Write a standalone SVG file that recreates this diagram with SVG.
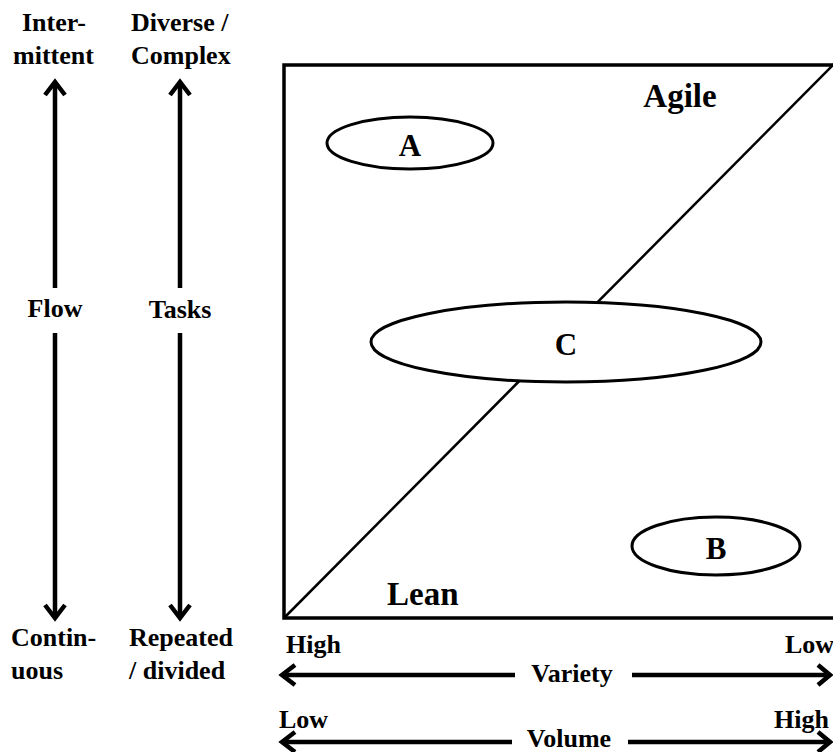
<svg xmlns="http://www.w3.org/2000/svg" width="833" height="752" viewBox="0 0 833 752">
<style>
text{font-family:"Liberation Serif","Times New Roman",serif;font-weight:bold;fill:#000}
.t{font-size:26px}
.big{font-size:33px}
.let{font-size:31px}
.ax{stroke:#000;stroke-width:4.5;fill:none}
.hd{stroke:#000;stroke-width:4.5;fill:none;stroke-linecap:butt;stroke-linejoin:miter}
.sh{stroke:#000;stroke-width:3;fill:#fff}
</style>
<rect width="833" height="752" fill="#fff"/>
<g id="matrix">
<rect x="284" y="65" width="560" height="553" fill="none" stroke="#000" stroke-width="3.5"/>
<line x1="284" y1="618" x2="836" y2="62" stroke="#000" stroke-width="2.5"/>
<text class="big" x="680" y="107" text-anchor="middle">Agile</text>
<text class="big" x="387" y="605">Lean</text>
</g>
<g id="nodeA"><ellipse class="sh" cx="410" cy="143" rx="83" ry="26"/><text class="let" x="410" y="156" text-anchor="middle">A</text></g>
<g id="nodeC"><ellipse class="sh" cx="566" cy="342" rx="195" ry="40"/><text class="let" x="566" y="355" text-anchor="middle">C</text></g>
<g id="nodeB"><ellipse class="sh" cx="716" cy="546" rx="84" ry="29"/><text class="let" x="716" y="559" text-anchor="middle">B</text></g>
<g id="labels">
<text class="t" x="22" y="31">Inter-</text>
<text class="t" x="13" y="64">mittent</text>
<text class="t" x="131" y="31">Diverse /</text>
<text class="t" x="131" y="64">Complex</text>
<text class="t" x="55" y="317" text-anchor="middle">Flow</text>
<text class="t" x="180" y="318" text-anchor="middle">Tasks</text>
<text class="t" x="11" y="646">Contin-</text>
<text class="t" x="11" y="679">uous</text>
<text class="t" x="129" y="646">Repeated</text>
<text class="t" x="129" y="679">/ divided</text>
<text class="t" x="286" y="653">High</text>
<text class="t" x="834" y="653" text-anchor="end">Low</text>
<text class="t" x="572" y="682" text-anchor="middle">Variety</text>
<text class="t" x="279" y="728">Low</text>
<text class="t" x="829" y="728" text-anchor="end">High</text>
<text class="t" x="569" y="747" text-anchor="middle">Volume</text>
</g>
<g id="connectors">
<line class="ax" x1="55" y1="82" x2="55" y2="288"/>
<line class="ax" x1="55" y1="333" x2="55" y2="618"/>
<polyline class="hd" points="45,95 55,82 65,95"/>
<polyline class="hd" points="45,605 55,618 65,605"/>
<line class="ax" x1="180" y1="82" x2="180" y2="288"/>
<line class="ax" x1="180" y1="333" x2="180" y2="618"/>
<polyline class="hd" points="170,95 180,82 190,95"/>
<polyline class="hd" points="170,605 180,618 190,605"/>
<line class="ax" x1="282" y1="675" x2="515" y2="675"/>
<line class="ax" x1="632" y1="675" x2="830" y2="675"/>
<polyline class="hd" points="295,665 282,675 295,685"/>
<polyline class="hd" points="818,665 830,675 818,685"/>
<line class="ax" x1="282" y1="742" x2="512" y2="742"/>
<line class="ax" x1="628" y1="742" x2="830" y2="742"/>
<polyline class="hd" points="295,732 282,742 295,752"/>
<polyline class="hd" points="818,732 830,742 818,752"/>
</g>
</svg>
